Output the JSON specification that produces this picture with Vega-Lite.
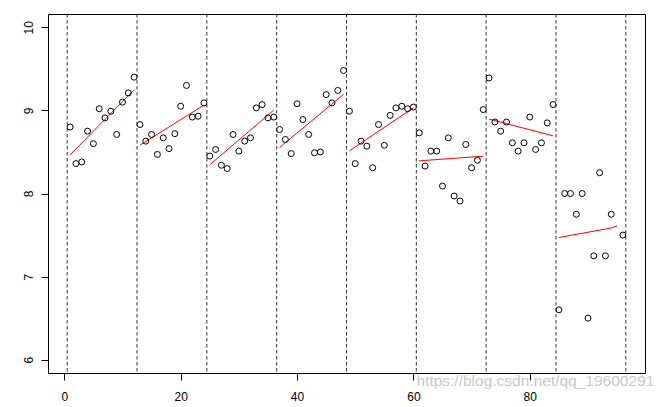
{
  "$schema": "https://vega.github.io/schema/vega-lite/v6.json",
  "width": 597,
  "height": 359,
  "autosize": "none",
  "padding": {"left": 48, "top": 14, "right": 19, "bottom": 34},
  "background": "white",
  "config": {
    "view": {"stroke": "black", "strokeWidth": 1},
    "axis": {
      "grid": false,
      "domain": false,
      "ticks": true,
      "tickColor": "black",
      "tickSize": 7,
      "labelFont": "Liberation Sans",
      "labelFontSize": 12,
      "labelColor": "black",
      "title": null
    }
  },
  "datasets": {
    "points": [
      {"x": 1, "y": 8.80}, {"x": 2, "y": 8.36}, {"x": 3, "y": 8.38}, {"x": 4, "y": 8.75},
      {"x": 5, "y": 8.60}, {"x": 6, "y": 9.02}, {"x": 7, "y": 8.91}, {"x": 8, "y": 8.99},
      {"x": 9, "y": 8.71}, {"x": 10, "y": 9.10}, {"x": 11, "y": 9.21}, {"x": 12, "y": 9.40},
      {"x": 13, "y": 8.83}, {"x": 14, "y": 8.63}, {"x": 15, "y": 8.71}, {"x": 16, "y": 8.47},
      {"x": 17, "y": 8.67}, {"x": 18, "y": 8.54}, {"x": 19, "y": 8.72}, {"x": 20, "y": 9.05},
      {"x": 21, "y": 9.30}, {"x": 22, "y": 8.92}, {"x": 23, "y": 8.93}, {"x": 24, "y": 9.09},
      {"x": 25, "y": 8.45}, {"x": 26, "y": 8.53}, {"x": 27, "y": 8.34}, {"x": 28, "y": 8.30},
      {"x": 29, "y": 8.71}, {"x": 30, "y": 8.51}, {"x": 31, "y": 8.63}, {"x": 32, "y": 8.67},
      {"x": 33, "y": 9.03}, {"x": 34, "y": 9.07}, {"x": 35, "y": 8.91}, {"x": 36, "y": 8.92},
      {"x": 37, "y": 8.77}, {"x": 38, "y": 8.65}, {"x": 39, "y": 8.48}, {"x": 40, "y": 9.08},
      {"x": 41, "y": 8.89}, {"x": 42, "y": 8.71}, {"x": 43, "y": 8.49}, {"x": 44, "y": 8.50},
      {"x": 45, "y": 9.19}, {"x": 46, "y": 9.09}, {"x": 47, "y": 9.24}, {"x": 48, "y": 9.48},
      {"x": 49, "y": 8.99}, {"x": 50, "y": 8.36}, {"x": 51, "y": 8.63}, {"x": 52, "y": 8.57},
      {"x": 53, "y": 8.31}, {"x": 54, "y": 8.83}, {"x": 55, "y": 8.58}, {"x": 56, "y": 8.94},
      {"x": 57, "y": 9.03}, {"x": 58, "y": 9.05}, {"x": 59, "y": 9.02}, {"x": 60, "y": 9.04},
      {"x": 61, "y": 8.73}, {"x": 62, "y": 8.33}, {"x": 63, "y": 8.51}, {"x": 64, "y": 8.51},
      {"x": 65, "y": 8.09}, {"x": 66, "y": 8.67}, {"x": 67, "y": 7.97}, {"x": 68, "y": 7.91},
      {"x": 69, "y": 8.59}, {"x": 70, "y": 8.31}, {"x": 71, "y": 8.40}, {"x": 72, "y": 9.01},
      {"x": 73, "y": 9.39}, {"x": 74, "y": 8.86}, {"x": 75, "y": 8.75}, {"x": 76, "y": 8.86},
      {"x": 77, "y": 8.61}, {"x": 78, "y": 8.51}, {"x": 79, "y": 8.61}, {"x": 80, "y": 8.92},
      {"x": 81, "y": 8.53}, {"x": 82, "y": 8.61}, {"x": 83, "y": 8.85}, {"x": 84, "y": 9.07},
      {"x": 85, "y": 6.60}, {"x": 86, "y": 8.00}, {"x": 87, "y": 8.00}, {"x": 88, "y": 7.75},
      {"x": 89, "y": 8.00}, {"x": 90, "y": 6.50}, {"x": 91, "y": 7.25}, {"x": 92, "y": 8.25},
      {"x": 93, "y": 7.25}, {"x": 94, "y": 7.75}, {"x": 96, "y": 7.50}
    ],
    "breaks": [
      {"x": 0.5}, {"x": 12.5}, {"x": 24.5}, {"x": 36.5}, {"x": 48.5},
      {"x": 60.5}, {"x": 72.5}, {"x": 84.5}, {"x": 96.5}
    ],
    "fits": [
      {"seg": 1, "x": 1, "y": 8.465}, {"seg": 1, "x": 12, "y": 9.248},
      {"seg": 2, "x": 13, "y": 8.582}, {"seg": 2, "x": 24, "y": 9.064},
      {"seg": 3, "x": 25, "y": 8.345}, {"seg": 3, "x": 36, "y": 9.004},
      {"seg": 4, "x": 37, "y": 8.554}, {"seg": 4, "x": 48, "y": 9.193},
      {"seg": 5, "x": 49, "y": 8.514}, {"seg": 5, "x": 60, "y": 9.03},
      {"seg": 6, "x": 61, "y": 8.393}, {"seg": 6, "x": 72, "y": 8.449},
      {"seg": 7, "x": 73, "y": 8.895}, {"seg": 7, "x": 84, "y": 8.694},
      {"seg": 8, "x": 85, "y": 7.47}, {"seg": 8, "x": 94, "y": 7.585}, {"seg": 8, "x": 95, "y": 7.61}
    ]
  },
  "encoding": {
    "x": {
      "type": "quantitative",
      "scale": {"domain": [-2.8, 99.8], "nice": false, "zero": false},
      "axis": {"values": [0, 20, 40, 60, 80], "labelPadding": 11, "labelFlush": false}
    },
    "y": {
      "type": "quantitative",
      "scale": {"domain": [5.84, 10.16], "nice": false, "zero": false},
      "axis": {
        "values": [6, 7, 8, 9, 10],
        "labelAngle": -90,
        "labelAlign": "center",
        "labelBaseline": "alphabetic",
        "labelPadding": 9,
        "labelFlush": false
      }
    }
  },
  "layer": [
    {
      "data": {"name": "breaks"},
      "mark": {"type": "rule", "color": "#333333", "strokeWidth": 1, "strokeDash": [3.5, 2.5]},
      "encoding": {"x": {"field": "x", "type": "quantitative"}}
    },
    {
      "data": {"name": "fits"},
      "mark": {"type": "line", "color": "#ff0000", "strokeWidth": 1},
      "encoding": {
        "x": {"field": "x", "type": "quantitative"},
        "y": {"field": "y", "type": "quantitative"},
        "detail": {"field": "seg", "type": "nominal"}
      }
    },
    {
      "data": {"name": "points"},
      "mark": {"type": "point", "shape": "circle", "filled": false, "color": "black", "size": 36, "strokeWidth": 1, "opacity": 1},
      "encoding": {
        "x": {"field": "x", "type": "quantitative"},
        "y": {"field": "y", "type": "quantitative"}
      }
    },
    {
      "data": {"values": [{"label": "https://blog.csdn.net/qq_19600291"}]},
      "mark": {"type": "text", "align": "right", "baseline": "alphabetic", "font": "Liberation Sans", "fontSize": 15.5, "color": "#c8c8c8", "clip": false},
      "encoding": {
        "x": {"datum": 101.4, "type": "quantitative"},
        "y": {"datum": 5.678, "type": "quantitative"},
        "text": {"field": "label", "type": "nominal"}
      }
    }
  ]
}
